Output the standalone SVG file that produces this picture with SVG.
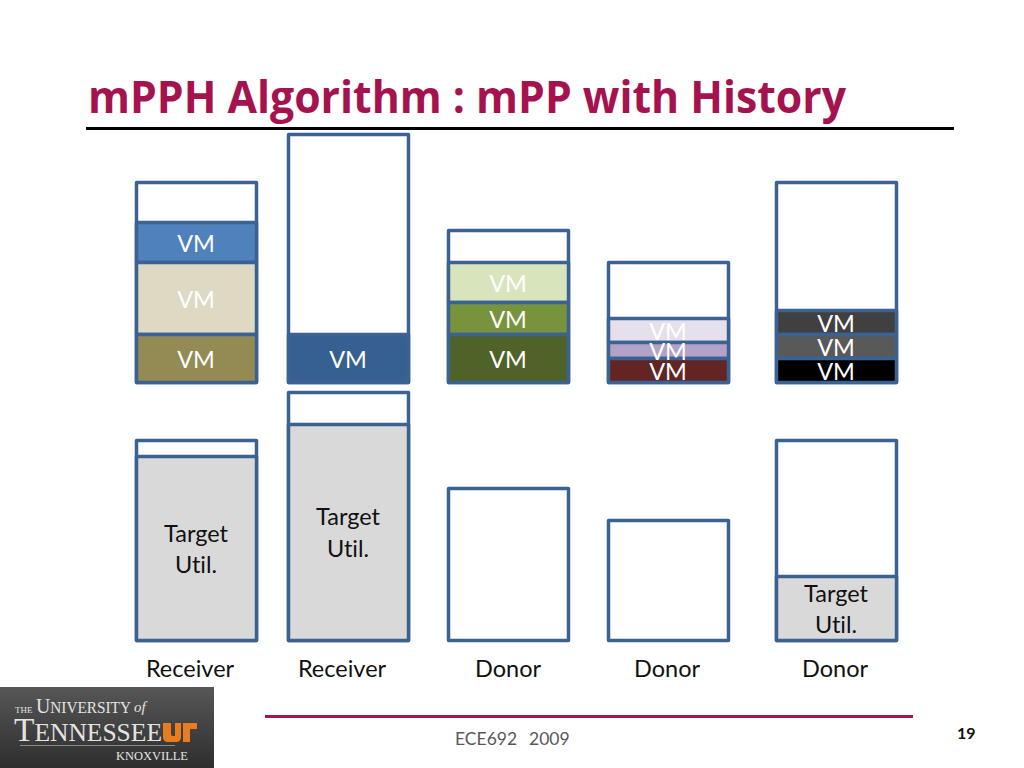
<svg xmlns="http://www.w3.org/2000/svg" width="1024" height="768" viewBox="0 0 1024 768">
<style>
text{font-family:Lato,"Open Sans","Liberation Sans",sans-serif;font-variant-ligatures:none}
.box{fill:#fff;stroke:#3c6292;stroke-width:3.500;stroke-linejoin:round}
.seg{stroke:#3c6292;stroke-width:3.500;stroke-linejoin:round}
.util{fill:#d9d9d9;stroke:#3c6292;stroke-width:3.500;stroke-linejoin:round}
.vm{fill:#fff;font-size:23.500px;text-anchor:middle}
.lbl{fill:#111;font-size:23.500px;text-anchor:middle}
.logo{font-family:"Liberation Serif",serif;fill:#e4e4e4}
</style>
<defs><linearGradient id="lg" x1="0" y1="0" x2="0" y2="1"><stop offset="0" stop-color="#565656"/><stop offset="1" stop-color="#2e2e2e"/></linearGradient></defs>
<rect width="1024" height="768" fill="#fff"/>
<text x="88" y="113" font-size="44" font-weight="700" fill="#a5134f" style="font-family:'Open Sans',sans-serif" textLength="758" lengthAdjust="spacingAndGlyphs">mPPH Algorithm : mPP with History</text>
<rect x="86" y="127" width="868" height="3" fill="#000"/>

<g id="stack-1">
<rect class="box" x="136.500" y="182.500" width="120" height="200"/>
<rect class="seg" fill="#4f81bd" x="136.500" y="222.500" width="120" height="40"/>
<rect class="seg" fill="#ddd9c3" x="136.500" y="262.500" width="120" height="72"/>
<rect class="seg" fill="#948a54" x="136.500" y="334.500" width="120" height="48"/>
<text class="vm" x="196" y="252">VM</text><text class="vm" x="196" y="308">VM</text><text class="vm" x="196" y="368">VM</text>
</g>
<g id="stack-2">
<rect class="box" x="288.500" y="134.500" width="120" height="248"/>
<rect class="seg" fill="#376092" x="288.500" y="334.500" width="120" height="48"/>
<text class="vm" x="348" y="368">VM</text>
</g>
<g id="stack-3">
<rect class="box" x="448.500" y="230.500" width="120" height="152"/>
<rect class="seg" fill="#d8e4bc" x="448.500" y="262.500" width="120" height="40"/>
<rect class="seg" fill="#77933c" x="448.500" y="302.500" width="120" height="32"/>
<rect class="seg" fill="#4f6228" x="448.500" y="334.500" width="120" height="48"/>
<text class="vm" x="508" y="292">VM</text><text class="vm" x="508" y="328">VM</text><text class="vm" x="508" y="368">VM</text>
</g>
<g id="stack-4">
<rect class="box" x="608.500" y="262.500" width="120" height="120"/>
<rect class="seg" fill="#e6e0ec" x="608.500" y="318.500" width="120" height="24"/>
<rect class="seg" fill="#b3a2c7" x="608.500" y="342.500" width="120" height="16"/>
<rect class="seg" fill="#632523" x="608.500" y="358.500" width="120" height="24"/>
<text class="vm" x="668" y="340">VM</text><text class="vm" x="668" y="360">VM</text><text class="vm" x="668" y="380">VM</text>
</g>
<g id="stack-5">
<rect class="box" x="776.500" y="182.500" width="120" height="200"/>
<rect class="seg" fill="#404040" x="776.500" y="310.500" width="120" height="24"/>
<rect class="seg" fill="#595959" x="776.500" y="334.500" width="120" height="24"/>
<rect class="seg" fill="#000" x="776.500" y="358.500" width="120" height="24"/>
<text class="vm" x="836" y="332">VM</text><text class="vm" x="836" y="356">VM</text><text class="vm" x="836" y="380">VM</text>
</g>

<g id="target-1">
<rect class="box" x="136.500" y="440.500" width="120" height="200"/>
<rect class="util" x="136.500" y="456.500" width="120" height="184"/>
<text class="lbl" x="196" y="542">Target</text><text class="lbl" x="196" y="573">Util.</text>
<text class="lbl" x="190" y="677">Receiver</text>
</g>
<g id="target-2">
<rect class="box" x="288.500" y="392.500" width="120" height="248"/>
<rect class="util" x="288.500" y="424.500" width="120" height="216"/>
<text class="lbl" x="348" y="525">Target</text><text class="lbl" x="348" y="557">Util.</text>
<text class="lbl" x="342" y="677">Receiver</text>
</g>
<g id="target-3">
<rect class="box" x="448.500" y="488.500" width="120" height="152"/>
<text class="lbl" x="508" y="677">Donor</text>
</g>
<g id="target-4">
<rect class="box" x="608.500" y="520.500" width="120" height="120"/>
<text class="lbl" x="667" y="677">Donor</text>
</g>
<g id="target-5">
<rect class="box" x="776.500" y="440.500" width="120" height="200"/>
<rect class="util" x="776.500" y="576.500" width="120" height="64"/>
<text class="lbl" x="836" y="602">Target</text><text class="lbl" x="836" y="633">Util.</text>
<text class="lbl" x="835" y="677">Donor</text>
</g>

<g id="logo">
<rect x="0" y="687" width="214" height="81" fill="url(#lg)"/>
<text class="logo" x="15" y="713" font-size="9">THE</text>
<text class="logo" x="36" y="713" font-size="17" textLength="95" lengthAdjust="spacingAndGlyphs"><tspan font-size="22">U</tspan>NIVERSITY</text>
<text class="logo" x="134" y="712" font-size="15" font-style="italic">of</text>
<text class="logo" x="14" y="741" font-size="26" textLength="148" lengthAdjust="spacingAndGlyphs"><tspan font-size="34">T</tspan>ENNESSEE</text>
<rect x="20" y="745" width="155" height="1" fill="#8a8a8a"/>
<path d="M163 723h8v11q0 2 2 2h2v-13h6v14q0 5-5 5h-8q-5 0-5-5z" fill="#e87c1e"/>
<path d="M183 723h14v6h-7v13h-7z" fill="#e87c1e"/>
<text class="logo" x="116" y="760" font-size="12.500" textLength="72" lengthAdjust="spacingAndGlyphs">KNOXVILLE</text>
</g>

<g id="footer">
<rect x="265" y="715" width="648" height="3" fill="#a5154f"/>
<text x="455" y="745" font-size="17.500" fill="#595959">ECE692</text>
<text x="529" y="745" font-size="17.500" fill="#595959">2009</text>
<text x="957" y="739" font-size="16" font-weight="700" fill="#111">19</text>
</g>
</svg>
